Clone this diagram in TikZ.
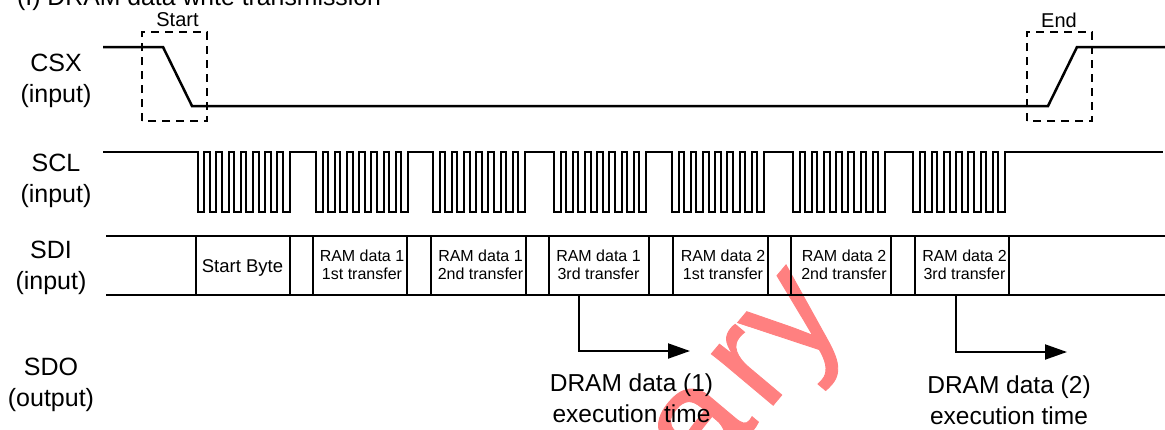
\documentclass[tikz,border=0pt]{standalone}
\usepackage{fontspec}
\setmainfont{Liberation Sans}
\newfontfamily\wmfont[FakeBold=0.6]{Liberation Sans}
\usetikzlibrary{arrows.meta}
\newcommand{\fs}[1]{\fontsize{#1}{#1}\selectfont}
\tikzset{
  wave/.style={draw=black,line width=2.5pt,line join=miter},
  thin wave/.style={draw=black,line width=2pt,line join=miter},
  dashbox/.style={draw=black,line width=1.2pt,dash pattern=on 8pt off 6pt},
  siglabel/.style={align=center,font=\fs{25},inner sep=0pt},
  cell/.style={align=center,font=\fs{16},inner sep=0pt},
  big/.style={align=center,font=\fs{24.5},inner sep=0pt},
  tag/.style={font=\fs{20},inner sep=0pt},
  arrowline/.style={draw=black,line width=2pt,-{Triangle[length=22pt,width=15pt]}},
  mark text/.style={font=\wmfont\fs{152},text=red!50,inner sep=0pt,rotate=50,anchor=base east},
}
\begin{document}
\begin{tikzpicture}[x=1pt,y=-1pt]
\useasboundingbox (0,0) rectangle (1165,429);
\begin{scope}
\clip (0,0) rectangle (1165,429);
\node[mark text] (wm) at (848,316) {a\kern 12pt ry};
\node[anchor=base west,inner sep=0pt,font=\fs{24.8}] (title) at (17,5.5) {(I) DRAM data write transmission};
\end{scope}
\node[siglabel] (csx) at (56,81) {CSX\\[6pt](input)};
\node[siglabel] (scl) at (56,181) {SCL\\[6pt](input)};
\node[siglabel] (sdi) at (51,267.5) {SDI\\[6pt](input)};
\node[siglabel] (sdo) at (51,385) {SDO\\[6pt](output)};
\coordinate (c0) at (103,47);\coordinate (c1) at (163,47);\coordinate (c2) at (192,106);
\coordinate (c3) at (1048,106);\coordinate (c4) at (1077,47);\coordinate (c5) at (1165,47);
\draw[wave] (c0)--(c1)--(c2)--(c3)--(c4)--(c5);
\draw[dashbox] (142,121) rectangle (207,32);
\draw[dashbox] (1027,121) rectangle (1092,32);
\node[tag] (st) at (177.5,20) {Start};
\node[tag] (en) at (1059,20) {End};
% SCL
\foreach \s in {197.5,316,433,554,672,793,913}{
  \foreach \k in {0,...,7}{
    \draw[thin wave,line cap=rect] ({\s+\k*12.2},151.5) -- ({\s+\k*12.2},211.5) -- ({\s+\k*12.2+6.6},211.5) -- ({\s+\k*12.2+6.6},151.5);
  }
  \foreach \k in {0,...,6}{
    \draw[thin wave,line cap=rect] ({\s+\k*12.2+6.6},151.5) -- ({\s+\k*12.2+12.2},151.5);
  }
}
\draw[thin wave] (103,151.5)--(197.5,151.5) (290,151.5)--(316,151.5) (408.6,151.5)--(433,151.5) (526,151.5)--(554,151.5) (647,151.5)--(672,151.5) (765,151.5)--(793,151.5) (886,151.5)--(913,151.5) (1006,151.5)--(1163,151.5);
% SDI
\coordinate (i0) at (106,235.5);\coordinate (i1) at (1165,235.5);
\coordinate (b0) at (106,294.7);\coordinate (b1) at (1165,294.7);
\draw[thin wave] (i0)--(i1) (b0)--(b1);
\foreach \x in {195.5,290,313,407,431,525.5,549,649,673,768,791,891,915,1009}{
  \draw[thin wave] (\x,235.5)--(\x,294.7);
}
\node[cell,font=\fs{18.5}] (sb) at (242.5,268) {Start Byte};
\node[cell] (a1) at (362,265) {RAM data 1\\[2pt]1st transfer};
\node[cell] (a2) at (480.5,265) {RAM data 1\\[2pt]2nd transfer};
\node[cell] (a3) at (598.5,265) {RAM data 1\\[2pt]3rd transfer};
\node[cell] (a4) at (723,265) {RAM data 2\\[2pt]1st transfer};
\node[cell] (a5) at (844,265) {RAM data 2\\[2pt]2nd transfer};
\node[cell] (a6) at (964.5,265) {RAM data 2\\[2pt]3rd transfer};
% arrows
\coordinate (p1) at (579,294.7);\coordinate (q1) at (579,351);\coordinate (t1) at (690,351);
\coordinate (p2) at (956,294.7);\coordinate (q2) at (956,352);\coordinate (t2) at (1067,352);
\draw[arrowline] (p1)--(q1)--(t1);
\draw[arrowline] (p2)--(q2)--(t2);
\node[big] (d1) at (631.5,398) {DRAM data (1)\\[6pt]execution time};
\node[big] (d2) at (1009,400) {DRAM data (2)\\[6pt]execution time};
\end{tikzpicture}
\end{document}
